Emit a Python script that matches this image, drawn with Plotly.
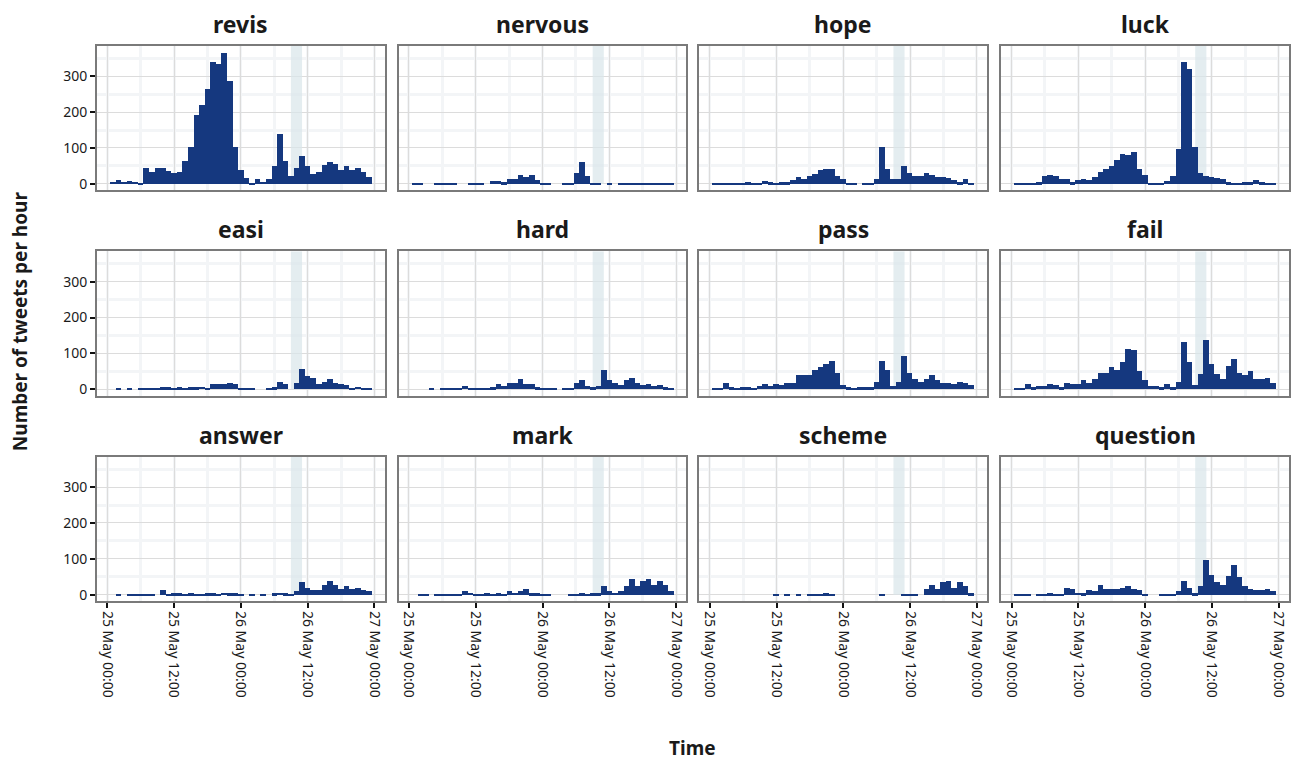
import pandas as pd
import plotly.graph_objects as go

# ---- data (tweets per hour, hour offsets from 25 May 00:00) ----
hours = list(range(1, 48))
terms = ["revis", "nervous", "hope", "luck", "easi", "hard", "pass", "fail",
         "answer", "mark", "scheme", "question"]

revis = [6, 11, 6, 8, 7, 3, 44, 33, 44, 44, 35, 30, 33, 63, 102, 192, 220, 264, 339, 333,
         366, 286, 104, 40, 16, 4, 13, 7, 13, 49, 140, 65, 22, 44, 79, 49, 29, 33, 52, 60,
         57, 40, 49, 40, 44, 33, 19]
nervous = [2, 1, 0, 0, 1, 3, 1, 3, 0, 0, 3, 3, 1, 0, 8, 8, 5, 14, 14, 25,
           20, 25, 11, 1, 3, 0, 0, 3, 3, 30, 61, 23, 3, 1, 0, 3, 0, 1, 3, 1,
           1, 3, 3, 3, 1, 1, 3]
hope = [3, 3, 1, 1, 1, 3, 5, 1, 3, 8, 5, 3, 5, 5, 11, 19, 14, 22, 27, 38,
        43, 41, 22, 14, 1, 1, 0, 1, 3, 14, 102, 43, 14, 14, 50, 30, 22, 22, 30, 25,
        19, 19, 17, 11, 5, 14, 3]
luck = [1, 3, 1, 3, 5, 22, 25, 22, 14, 14, 5, 11, 14, 11, 19, 33, 41, 49, 68, 85,
        80, 90, 43, 25, 1, 3, 3, 8, 22, 98, 339, 320, 104, 30, 22, 19, 17, 14, 5, 3,
        3, 5, 5, 11, 5, 3, 3]
easi = [0, 1, 0, 1, 0, 1, 1, 1, 1, 5, 5, 1, 5, 2, 5, 5, 7, 2, 13, 13,
        13, 18, 13, 2, 1, 2, 0, 0, 1, 5, 21, 13, 0, 16, 57, 35, 32, 13, 21, 29,
        18, 13, 10, 2, 7, 2, 2]
hard = [0, 0, 0, 1, 0, 1, 2, 2, 2, 8, 2, 1, 2, 2, 5, 13, 8, 16, 16, 27,
        13, 13, 5, 2, 2, 2, 0, 2, 2, 18, 24, 8, 5, 8, 52, 24, 16, 10, 24, 32,
        18, 10, 13, 8, 10, 5, 2]
pass_ = [2, 2, 16, 5, 2, 5, 5, 2, 8, 13, 8, 13, 10, 16, 16, 38, 40, 38, 54, 62,
         71, 79, 46, 10, 5, 2, 5, 5, 5, 21, 79, 54, 8, 21, 93, 46, 29, 21, 27, 38,
         24, 16, 16, 13, 21, 18, 10]
fail = [2, 2, 13, 5, 8, 8, 13, 10, 5, 18, 13, 13, 24, 18, 27, 46, 46, 60, 52, 76,
        112, 109, 49, 24, 8, 8, 5, 13, 5, 21, 131, 74, 10, 43, 137, 71, 43, 27, 65, 85,
        46, 40, 49, 29, 29, 32, 16]
answer = [0, 1, 0, 1, 1, 1, 1, 1, 0, 13, 2, 5, 5, 2, 5, 2, 2, 5, 5, 2,
          7, 5, 5, 2, 0, 1, 0, 1, 0, 5, 7, 5, 2, 10, 35, 21, 13, 13, 29, 38,
          29, 18, 24, 18, 21, 13, 10]
mark = [0, 2, 1, 0, 2, 1, 1, 2, 2, 10, 7, 2, 2, 5, 2, 5, 2, 10, 7, 10,
        16, 5, 5, 2, 2, 0, 0, 0, 1, 1, 5, 2, 5, 5, 24, 10, 7, 10, 24, 46,
        24, 40, 46, 27, 40, 29, 10]
scheme = [0, 0, 0, 0, 0, 0, 0, 0, 0, 0, 0, 1, 0, 1, 0, 1, 0, 2, 2, 1,
          5, 2, 0, 0, 0, 0, 0, 0, 0, 0, 1, 0, 0, 0, 2, 2, 2, 0, 16, 29,
          18, 35, 40, 21, 35, 24, 5]
question = [2, 1, 1, 0, 1, 2, 5, 2, 2, 21, 16, 7, 5, 13, 10, 27, 16, 16, 18, 21,
            24, 16, 13, 2, 0, 0, 1, 2, 1, 10, 38, 21, 5, 24, 98, 57, 35, 29, 54, 85,
            49, 24, 16, 13, 13, 16, 10]
series = [revis, nervous, hope, luck, easi, hard, pass_, fail, answer, mark, scheme, question]

# exam window (hours from start)
band_start, band_end = 33, 35
x_tick_labels = ["25 May 00:00", "25 May 12:00", "26 May 00:00", "26 May 12:00", "27 May 00:00"]

# ---- layout geometry ----
W, H = 1291, 761
col_left = [97, 399, 700, 1002]
row_top = [46, 252, 458]
pw, ph = 288, 145

base = pd.Timestamp("2016-05-25 00:00")
HOUR = pd.Timedelta(hours=1)
xr = [base - 1.85 * HOUR, base + 49.85 * HOUR]
yr = [-18.3, 384.3]
tickvals = [base + 12 * i * HOUR for i in range(5)]

BAR = "#15387f"
FONT = "Noto Sans"

fig = go.Figure()
layout = dict(
    width=W, height=H, autosize=False,
    margin=dict(l=0, r=0, t=0, b=0),
    paper_bgcolor="white", plot_bgcolor="white",
    bargap=0, showlegend=False,
    font=dict(family=FONT, color="#222222"),
)
annotations = []
shapes = []

for i, (name, vals) in enumerate(zip(terms, series)):
    r, c = divmod(i, 4)
    n = i + 1
    xa = "x" if n == 1 else f"x{n}"
    ya = "y" if n == 1 else f"y{n}"
    xs = [base + h * HOUR for h in hours]
    fig.add_trace(go.Bar(
        x=xs, y=vals, width=3600 * 1000, marker=dict(color=BAR, line=dict(width=0)),
        xaxis=xa, yaxis=ya, hoverinfo="x+y"))
    x0, x1 = col_left[c] / W, (col_left[c] + pw) / W
    y1, y0 = 1 - row_top[r] / H, 1 - (row_top[r] + ph) / H
    bottom = (r == 2)
    left = (c == 0)
    layout[f"xaxis{'' if n == 1 else n}"] = dict(
        domain=[x0, x1], anchor=ya, type="date", range=xr,
        tickmode="array", tickvals=tickvals, ticktext=x_tick_labels,
        showticklabels=bottom, ticks="outside" if bottom else "",
        ticklen=5, tickwidth=2, tickcolor="#111111", tickangle=90,
        tickfont=dict(size=14, color="#1a1a1a", family=FONT),
        showgrid=True, gridcolor="#dcdcdc", gridwidth=1,
        minor=dict(dtick=6 * 3600 * 1000, tick0=base, showgrid=True,
                   gridcolor="#f3f5f7", gridwidth=3, ticks=""),
        showline=True, mirror=True, linecolor="#7a7a7a", linewidth=1.5,
        zeroline=False, fixedrange=True,
    )
    layout[f"yaxis{'' if n == 1 else n}"] = dict(
        domain=[y0, y1], anchor=xa, range=yr,
        tickmode="array", tickvals=[0, 100, 200, 300],
        showticklabels=left, ticks="outside" if left else "",
        ticklen=5, tickwidth=2, tickcolor="#111111",
        tickfont=dict(size=14, color="#1a1a1a", family=FONT),
        showgrid=True, gridcolor="#dcdcdc", gridwidth=1,
        minor=dict(tickvals=[50, 150, 250, 350], showgrid=True,
                   gridcolor="#f3f5f7", gridwidth=3, ticks=""),
        showline=True, mirror=True, linecolor="#7a7a7a", linewidth=1.5,
        zeroline=False, fixedrange=True,
    )
    shapes.append(dict(
        type="rect", xref=xa, yref=ya,
        x0=base + band_start * HOUR, x1=base + band_end * HOUR,
        y0=0, y1=yr[1], fillcolor="#d8e5ea", opacity=0.7,
        line=dict(width=0), layer="between"))
    annotations.append(dict(
        text=f"<b>{name}</b>", x=(x0 + x1) / 2, y=1 - (row_top[r] - 22) / H,
        xref="paper", yref="paper", xanchor="center", yanchor="middle",
        showarrow=False, font=dict(size=23, color="#1a1a1a", family=FONT)))

annotations.append(dict(
    text="<b>Time</b>", x=(97 + 1290) / 2 / W, y=1 - 750 / H, xref="paper", yref="paper",
    xanchor="center", yanchor="middle", showarrow=False,
    font=dict(size=19, color="#1a1a1a", family=FONT)))
annotations.append(dict(
    text="<b>Number of tweets per hour</b>", x=20 / W, y=1 - 322 / H, xref="paper",
    yref="paper", xanchor="center", yanchor="middle", textangle=-90, showarrow=False,
    font=dict(size=19, color="#1a1a1a", family=FONT)))

layout["annotations"] = annotations
layout["shapes"] = shapes
fig.update_layout(**layout)
fig.write_html(
    "out.html",
    config={"displayModeBar": False},
    post_script="document.body.style.margin='0';document.body.style.overflow='hidden';",
)
